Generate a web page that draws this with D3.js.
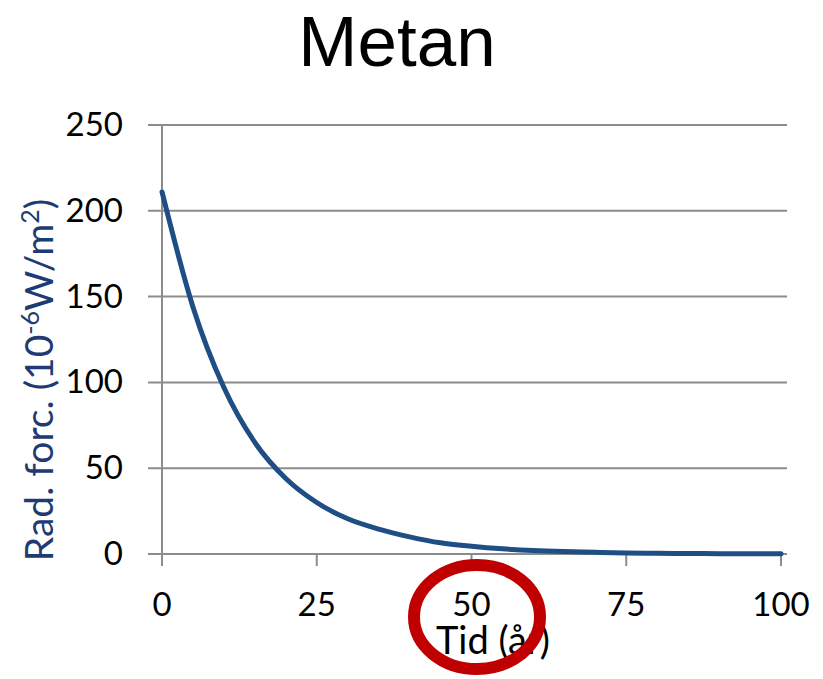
<!DOCTYPE html>
<html><head><meta charset="utf-8">
<script src="https://cdn.jsdelivr.net/npm/d3@7"></script>
<style>body{margin:0;background:#fff;} svg{display:block;}</style>
</head><body>
<script>
const years = [0,5,10,15,20,25,30,35,40,45,50,55,60,65,70,75,80,85,90,95,100];
const forcing = [211,144,97,65,44,30,20.5,14.5,10,6.5,4.5,3,2,1.4,1,0.6,0.4,0.3,0.2,0.1,0.1];
const xTicks = [0,25,50,75,100];
const yTicks = [0,50,100,150,200,250];
const title = "Metan";
const xTitle = "Tid (år)";

const W=823,H=679;
const svg=d3.select("body").append("svg").attr("width",W).attr("height",H);
const x=d3.scaleLinear().domain([0,100]).range([162,781]);
const y=d3.scaleLinear().domain([0,250]).range([554,125]);
const gridColor="#8c8c8c";
const font="Lato, 'Open Sans', sans-serif";

// gridlines
svg.append("g").selectAll("line").data(yTicks).join("line")
  .attr("x1",148).attr("x2",787).attr("y1",d=>y(d)).attr("y2",d=>y(d))
  .attr("stroke",gridColor).attr("stroke-width",2);
// y axis line
svg.append("line").attr("x1",x(0)).attr("x2",x(0)).attr("y1",y(250)).attr("y2",y(0)+12)
  .attr("stroke",gridColor).attr("stroke-width",2);
// x ticks
svg.append("g").selectAll("line").data(xTicks.slice(1)).join("line")
  .attr("x1",d=>x(d)).attr("x2",d=>x(d)).attr("y1",y(0)).attr("y2",y(0)+12)
  .attr("stroke",gridColor).attr("stroke-width",2);

// y tick labels
svg.append("g").selectAll("text").data(yTicks).join("text")
  .attr("x",123).attr("y",d=>y(d)+11).attr("text-anchor","end")
  .attr("font-family",font).attr("font-size",33).attr("fill","#000").text(d=>d);
// x tick labels
svg.append("g").selectAll("text").data(xTicks).join("text")
  .attr("x",d=>x(d)).attr("y",616).attr("text-anchor","middle")
  .attr("font-family",font).attr("font-size",33).attr("fill","#000").text(d=>d);

// line
svg.append("path").datum(years.map((t,i)=>[t,forcing[i]]))
  .attr("d",d3.line().x(d=>x(d[0])).y(d=>y(d[1])).curve(d3.curveMonotoneX))
  .attr("fill","none").attr("stroke","#1f4e85").attr("stroke-width",5).attr("stroke-linecap","round");

// title
svg.append("text").attr("x",397).attr("y",66).attr("text-anchor","middle")
  .attr("font-family","'Liberation Sans', Arial, sans-serif").attr("font-size",71).attr("fill","#000").text(title);

// x title
svg.append("text").attr("x",436).attr("y",654).attr("text-anchor","start")
  .attr("font-family",font).attr("font-size",38).attr("fill","#000").text(xTitle);

// y title
const yt=svg.append("text").attr("transform","translate(53,380) rotate(-90)").attr("text-anchor","middle")
  .attr("font-family",font).attr("font-size",39).attr("fill","#1f3b73");
yt.append("tspan").text("Rad. forc. (10");
yt.append("tspan").attr("dy",-14).attr("font-size",25).text("-6");
yt.append("tspan").attr("dy",14).text("W/m");
yt.append("tspan").attr("dy",-14).attr("font-size",25).text("2");
yt.append("tspan").attr("dy",14).text(")");

// red circle annotation
svg.append("ellipse").attr("cx",477).attr("cy",617).attr("rx",63).attr("ry",52)
  .attr("fill","none").attr("stroke","#c00000").attr("stroke-width",12);
</script>
</body></html>
